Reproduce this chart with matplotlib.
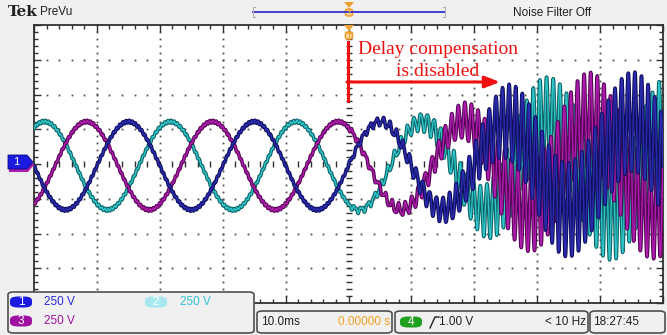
import numpy as np
import matplotlib.pyplot as plt
from matplotlib.patches import FancyBboxPatch, Polygon
import matplotlib.patheffects as pe

W, H = 667, 335

# scope settings
ms_per_div = 10.0
volts_label = ['250 V', '250 V', '250 V']
f_grid = 50.0          # Hz
amp_div = 1.27         # peak of each phase, divisions
offset_div = -0.05

channels = ['1', '2', '3']
phase_deg = [0, -120, 120]
trace_colors = ['#2b2bb0', '#2ec4c8', '#b01cb0']
edge_colors = ['#10105e', '#0f6468', '#560656']

# switching ripple before the event
ripple_amp = 0.04
f_ripple = 2000.0

# oscillation that builds up after compensation is switched off (t > 0)
env_t = [0, 5, 10, 15, 20, 25, 30, 40, 50]                     # ms
env_amp = [0.05, 0.1, 0.2, 0.35, 0.6, 1.05, 1.3, 1.4, 1.45]   # div
f_osc = 950.0
osc_phase_deg = [0, 120, 240]


def fx(x):
    return x / W


def fy(y):
    return 1 - y / H


fig = plt.figure(figsize=(W / 100, H / 100), dpi=100)
fig.patch.set_facecolor('#f0f0f0')

# graticule area
ax = fig.add_axes([fx(34), fy(303), 629 / W, 278 / H])
ax.set_facecolor('white')
ax.set_xlim(-50, 50)
ax.set_ylim(-4, 4)
ax.set_xticks(np.arange(-50, 51, 10))
ax.set_xticks(np.arange(-50, 51, 2), minor=True)
ax.set_yticks(np.arange(-4, 5, 1))
ax.set_yticks(np.arange(-4, 4.01, 0.2), minor=True)
ax.tick_params(which='both', direction='in', top=True, right=True,
               labelbottom=False, labelleft=False, color='#303030', width=1)
ax.tick_params(which='major', length=5)
ax.tick_params(which='minor', length=3)
for s in ax.spines.values():
    s.set_linewidth(1.3)
    s.set_color('#303030')

# dotted grid
for gx in np.arange(-40, 41, 10):
    if gx == 0:
        continue
    yy = np.arange(-4, 4.01, 0.2)
    ax.plot(np.full_like(yy, gx), yy, ls='none', marker='s', ms=1.3,
            mfc='#505050', mec='none', zorder=1)
for gy in np.arange(-3, 4, 1):
    if gy == 0:
        continue
    xx = np.arange(-50, 50.01, 2)
    ax.plot(xx, np.full_like(xx, gy), ls='none', marker='s', ms=1.3,
            mfc='#505050', mec='none', zorder=1)

# centre cross with fine ticks
xx = np.arange(-48, 49, 2)
ax.plot(xx, np.zeros_like(xx), ls='none', marker='|', ms=4, mew=1,
        color='#303030', zorder=1)
yy = np.arange(-3.8, 3.81, 0.2)
ax.plot(np.zeros_like(yy), yy, ls='none', marker='_', ms=5, mew=1,
        color='#303030', zorder=1)

# three phase traces
t = np.linspace(-50, 50, 8000)
env = np.interp(t, env_t, env_amp) * (t > 0)
for k in [1, 2, 0]:
    ph = np.deg2rad(phase_deg[k])
    v = amp_div * np.sin(2 * np.pi * f_grid * t / 1000 + ph) + offset_div
    v += ripple_amp * np.sin(2 * np.pi * f_ripple * t / 1000 + ph)
    v += env * np.sin(2 * np.pi * f_osc * t / 1000 + np.deg2rad(osc_phase_deg[k]))
    ax.plot(t, v, color=trace_colors[k], lw=1.0, zorder=3,
            path_effects=[pe.Stroke(linewidth=2.6, foreground=edge_colors[k]),
                          pe.Normal()])

# top status line
fig.text(fx(8), fy(12), 'Tek', family='DejaVu Serif', weight='bold',
         fontsize=11, va='center', color='#202020')
fig.text(fx(40), fy(12), 'PreVu', family='Liberation Sans', fontsize=8.5,
         va='center', color='#202020')
fig.text(fx(552), fy(13), 'Noise Filter Off', family='Liberation Sans',
         fontsize=8.5, va='center', ha='center', color='#202020')
fig.add_artist(plt.Line2D([fx(253), fx(445)], [fy(12), fy(12)],
                          color='#3030d0', lw=1.3))
for bx, d in [(253, 1), (445, -1)]:
    fig.add_artist(plt.Line2D([fx(bx + 2 * d), fx(bx), fx(bx), fx(bx + 2 * d)],
                              [fy(7), fy(7), fy(17), fy(17)],
                              color='#b0b0b0', lw=0.8))

# trigger position markers
for top in [2, 25]:
    fig.add_artist(Polygon([(fx(344), fy(top)), (fx(354), fy(top)),
                            (fx(349), fy(top + 6))], closed=True,
                           color='#f0a030', lw=0))
    fig.add_artist(FancyBboxPatch((fx(345.5), fy(top + 14)), 7 / W, 7 / H,
                                  boxstyle='round,pad=0,rounding_size=0.005',
                                  fc='#fbe0b0', ec='#f0a030', lw=1.2))
    fig.text(fx(349), fy(top + 10.5), 'T', fontsize=5, ha='center',
             va='center', color='#f0a030', weight='bold')

# channel 1 ground marker
fig.add_artist(Polygon([(fx(9), fy(158)), (fx(28), fy(158)), (fx(34), fy(165)),
                        (fx(28), fy(172)), (fx(9), fy(172))], closed=True,
                       fc='#b01cb0', lw=0))
fig.add_artist(Polygon([(fx(8), fy(155)), (fx(27), fy(155)), (fx(33), fy(162)),
                        (fx(27), fy(169)), (fx(8), fy(169))], closed=True,
                       fc='#1a1ae0', ec='#0a0a80', lw=0.6))
fig.text(fx(16), fy(162), '1', color='white', fontsize=8, ha='center',
         va='center', family='Liberation Sans')


def box(x0, y0, x1, y1):
    fig.add_artist(FancyBboxPatch((fx(x0), fy(y1)), (x1 - x0) / W, (y1 - y0) / H,
                                  boxstyle='round,pad=0,rounding_size=0.008',
                                  fc='#f0f0f0', ec='#505050', lw=1.2))


def pill(xc, yc, label, fc, tc='white'):
    fig.add_artist(FancyBboxPatch((fx(xc - 11), fy(yc + 5.5)), 22 / W, 11 / H,
                                  boxstyle='round,pad=0,rounding_size=0.012',
                                  fc=fc, ec='none'))
    fig.text(fx(xc), fy(yc), label, color=tc, fontsize=8.5, ha='center',
             va='center', family='Liberation Sans')


# channel readout
box(8, 292, 254, 333)
pill(21, 302, '1', '#1a1ae0')
fig.text(fx(44), fy(302), volts_label[0], color='#2a2ae0', fontsize=8.5,
         va='center', family='Liberation Sans')
pill(156, 302, '2', '#a8e8f0')
fig.text(fx(180), fy(302), volts_label[1], color='#30c0d8', fontsize=8.5,
         va='center', family='Liberation Sans')
pill(21, 321, '3', '#a010a0')
fig.text(fx(44), fy(321), volts_label[2], color='#a010a0', fontsize=8.5,
         va='center', family='Liberation Sans')

# timebase readout
box(257, 311, 392, 333)
fig.text(fx(261), fy(322), '%.1fms' % ms_per_div, color='#202020',
         fontsize=8.5, va='center', family='Liberation Sans')
fig.text(fx(338), fy(322), '0.00000 s', color='#f0a020', fontsize=8.5,
         va='center', family='Liberation Sans')

# trigger readout
box(395, 311, 588, 333)
pill(411, 322, '4', '#20a020')
fig.add_artist(plt.Line2D([fx(430), fx(435), fx(439)],
                          [fy(328), fy(317), fy(317)], color='#202020', lw=1))
fig.text(fx(439), fy(322), '1.00 V', color='#202020', fontsize=8.5,
         va='center', family='Liberation Sans')
fig.text(fx(545), fy(322), '< 10 Hz', color='#202020', fontsize=8.5,
         va='center', family='Liberation Sans')

box(590, 311, 665, 333)
fig.text(fx(593), fy(322), '18:27:45', color='#202020', fontsize=8.5,
         va='center', family='Liberation Sans')

# annotation
red = '#f01010'
fig.add_artist(plt.Line2D([fx(348), fx(348)], [fy(42), fy(101)],
                          color=red, lw=2.2))
ax.annotate('', xy=(fx(500), fy(82)), xytext=(fx(347), fy(82)),
            xycoords='figure fraction', textcoords='figure fraction',
            arrowprops=dict(arrowstyle='-|>,head_length=0.9,head_width=0.35',
                            color=red, lw=2.2, shrinkA=0, shrinkB=0))
fig.text(fx(438), fy(49), 'Delay compensation', color=red, fontsize=14,
         ha='center', va='center', family='Liberation Serif')
fig.text(fx(438), fy(72), 'is disabled', color=red, fontsize=14,
         ha='center', va='center', family='Liberation Serif')

fig.savefig('out.png', dpi=100, facecolor=fig.get_facecolor())
